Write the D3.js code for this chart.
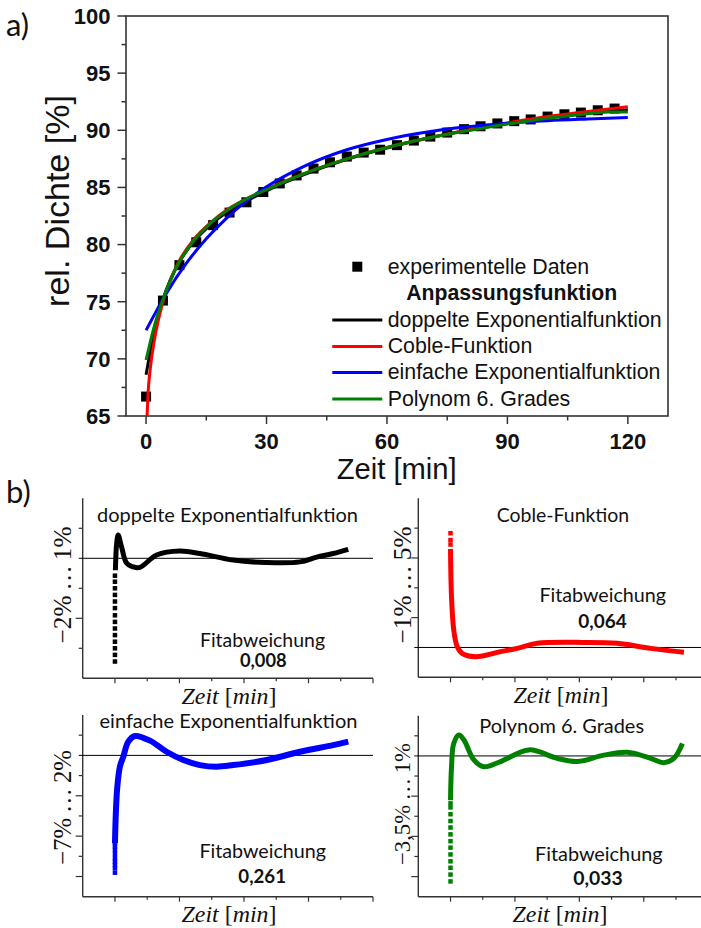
<!DOCTYPE html>
<html>
<head>
<meta charset="utf-8">
<script src="https://cdn.jsdelivr.net/npm/d3@7"></script>
<style>
  html, body { margin: 0; padding: 0; background: #fff; }
  svg { display: block; }
  .sans { font-family: Arial, "Liberation Sans", Helvetica, sans-serif; }
  .cal { font-family: Lato, "Noto Sans", sans-serif; }
  .serif { font-family: "Liberation Serif", "Times New Roman", serif; }
</style>
</head>
<body>
<svg id="chart" width="701" height="928"></svg>
<script>
// ---------- a) sintering density over time ----------
const timeMin = [0, 4.2, 8.3, 12.5, 16.7, 20.8, 25, 29.2, 33.3, 37.5, 41.7, 45.8, 50, 54.2,
  58.3, 62.5, 66.7, 70.8, 75, 79.2, 83.3, 87.5, 91.7, 95.8, 100, 104.2, 108.3, 112.5, 116.7];
const density = [66.7, 75.1, 78.2, 80.2, 81.7, 82.8, 83.7, 84.6, 85.35, 86.05, 86.65, 87.2, 87.7, 88.05,
  88.3, 88.7, 89.1, 89.45, 89.8, 90.1, 90.35, 90.6, 90.8, 90.95, 91.2, 91.4, 91.55, 91.75, 91.9];

// fitted curves (time, density)
const fitDoubleExpT = [0, 1, 2, 4, 6, 8, 12, 16, 20, 25, 30, 40, 50, 60, 70, 80, 90, 100, 110, 120];
const fitDoubleExpY = [68.6, 70.6, 72.4, 75.0, 76.9, 78.3, 80.3, 81.7, 82.8, 83.8, 84.7, 86.2, 87.45, 88.45, 89.3, 90.0, 90.6, 91.1, 91.5, 91.8];
const fitCobleT = [0.25, 0.5, 1, 2, 3, 4, 6, 8, 12, 16, 20, 25, 30, 40, 50, 60, 70, 80, 90, 100, 110, 120];
const fitCobleY = [65.0, 67.0, 69.0, 71.5, 73.3, 74.7, 76.8, 78.4, 80.5, 81.9, 83.0, 84.0, 84.85, 86.3, 87.5, 88.5, 89.3, 90.0, 90.65, 91.2, 91.65, 92.05];
const fitSingleExpT = [0, 5, 10, 15, 20, 25, 30, 40, 50, 60, 70, 80, 90, 100, 110, 120];
const fitSingleExpY = [72.5, 75.7, 78.35, 80.5, 82.3, 83.8, 85.05, 86.95, 88.3, 89.2, 89.85, 90.3, 90.62, 90.84, 90.99, 91.12];
const fitPolyT = [0, 2, 4, 6, 8, 12, 16, 20, 25, 30, 40, 50, 60, 70, 80, 90, 100, 110, 115, 120];
const fitPolyY = [69.9, 72.8, 75.0, 76.8, 78.3, 80.4, 81.85, 82.95, 84.0, 84.8, 86.3, 87.5, 88.5, 89.3, 89.95, 90.55, 91.05, 91.45, 91.6, 91.6];

const xTicksMajor = [0, 30, 60, 90, 120];
const xTicksMinor = [15, 45, 75, 105];
const yTicksMajor = [65, 70, 75, 80, 85, 90, 95, 100];
const yTicksMinor = [67.5, 72.5, 77.5, 82.5, 87.5, 92.5, 97.5];

const legendNames = ["doppelte Exponentialfunktion", "Coble-Funktion", "einfache Exponentialfunktion", "Polynom 6. Grades"];
const fitColors = ["#000000", "#ff0000", "#0000ff", "#008000"];

// ---------- b) residuals of each fit (deviation in %) ----------
const panelTitles = legendNames;
const panelRanges = ["\u22122%\u2009\u2026\u20091%", "\u22121%\u2009\u2026\u20095%", "\u22127%\u2009\u2026\u20092%", "\u22123,5%\u2009\u2026\u20091%"];
const panelFitErrors = ["0,008", "0,064", "0,261", "0,033"];

const resDoubleT = [0.2, 0.8, 1.5, 3.0, 5.4, 8.0, 11.6, 19.4, 30.2, 39.5, 55, 70, 86, 93.8, 101.5, 108.5];
const resDoubleY = [-0.2, 0.25, 0.39, 0.2, -0.08, -0.14, -0.15, 0.055, 0.12, 0.08, -0.03, -0.07, -0.06, 0.02, 0.08, 0.15];
const resDoubleDots = [-0.29, -0.39, -0.5, -0.61, -0.72, -0.83, -0.95, -1.06, -1.17, -1.28, -1.39, -1.5, -1.61, -1.72];

const resCobleT = [0, 0.47, 1.5, 3.1, 5.4, 11.6, 23.3, 31.1, 40.4, 62.1, 77.6, 93.2, 108.7];
const resCobleY = [3.3, 1.7, 0.59, 0.03, -0.2, -0.31, -0.14, -0.03, 0.14, 0.17, 0.14, -0.03, -0.16];
const resCobleDots = [3.83, 3.6, 3.45];

const resSingleT = [0, 0.47, 1.1, 2.3, 3.9, 6.2, 9.3, 16.3, 24, 31.8, 39.5, 47.3, 55, 70.6, 86, 101.5, 108.5];
const resSingleY = [-4.35, -2.7, -1.55, -0.56, -0.06, 0.68, 0.96, 0.73, 0.18, -0.23, -0.48, -0.56, -0.48, -0.23, 0.18, 0.51, 0.68];
const resSingleDots = [-5.81, -5.59, -5.43, -5.26, -5.09, -4.88, -4.68, -4.51, -4.35];

const resPolyT = [0, 0.47, 1.5, 3.9, 6.2, 10.9, 15.5, 23.3, 36.5, 49.7, 59, 71.4, 82.3, 93.2, 99.3, 104, 108];
const resPolyY = [-1.1, -0.27, 0.31, 0.52, 0.4, -0.1, -0.27, -0.14, 0.15, -0.06, -0.14, 0.02, 0.09, -0.06, -0.17, -0.06, 0.31];
const resPolyDots = [-3.12, -2.95, -2.78, -2.62, -2.45, -2.28, -2.12, -1.95, -1.78, -1.62, -1.45, -1.28, -1.18];

const panelYDomains = [[-2, 1], [-1, 5], [-7, 2], [-3.5, 1]];
const panelYTicksMajor = [[-1], [1, 3], [-2, -4, -6], [-1, -2, -3]];
const panelYTicksMinor = [[0.5, -0.5, -1.5], [2, 4], [1, -1, -3, -5], [0.5, -0.5, -1.5, -2.5]];
const panelXTicksMajor = [0, 30, 60, 90, 120];
const panelXTicksMinor = [15, 45, 75, 105];

// ======================================================
const svg = d3.select("#chart");

function fitWidth(sel, w) {
  const len = sel.node().getComputedTextLength();
  const fs = parseFloat(sel.attr("font-size"));
  sel.attr("font-size", (fs * w / len).toFixed(2));
  return sel;
}

// ---------- chart a ----------
const plot = { left: 126, right: 668, top: 16, bottom: 416 };
const x = d3.scaleLinear().domain([-5, 130]).range([plot.left, plot.right]);
const y = d3.scaleLinear().domain([65, 100]).range([plot.bottom, plot.top]);

const gA = svg.append("g");
const axisCol = "#333";

// ticks (outside)
gA.selectAll(".xt").data(xTicksMajor.map(v => ({ v, len: 8 })).concat(xTicksMinor.map(v => ({ v, len: 4.5 }))))
  .join("line").attr("x1", d => x(d.v)).attr("x2", d => x(d.v))
  .attr("y1", plot.bottom).attr("y2", d => plot.bottom + d.len)
  .attr("stroke", axisCol).attr("stroke-width", 1.5);
gA.selectAll(".yt").data(yTicksMajor.map(v => ({ v, len: 8.5 })).concat(yTicksMinor.map(v => ({ v, len: 4.5 }))))
  .join("line").attr("y1", d => y(d.v)).attr("y2", d => y(d.v))
  .attr("x1", plot.left).attr("x2", d => plot.left - d.len)
  .attr("stroke", axisCol).attr("stroke-width", 1.5);

// frame
gA.append("rect").attr("x", plot.left).attr("y", plot.top)
  .attr("width", plot.right - plot.left).attr("height", plot.bottom - plot.top)
  .attr("fill", "none").attr("stroke", axisCol).attr("stroke-width", 1.6);

// tick labels
gA.selectAll(".xl").data(xTicksMajor).join("text").attr("class", "sans")
  .attr("x", d => x(d)).attr("y", 448.5).attr("text-anchor", "middle")
  .attr("font-weight", "bold").attr("font-size", 22)
  .attr("fill", "#111").text(d => d);
gA.selectAll(".yl").data(yTicksMajor).join("text").attr("class", "sans")
  .attr("x", 110.5).attr("y", d => y(d) + 7.8).attr("text-anchor", "end")
  .attr("font-weight", "bold").attr("font-size", 22)
  .attr("fill", "#111").text(d => d);

// axis titles
fitWidth(gA.append("text").attr("class", "sans").attr("x", 396.7).attr("y", 479).attr("text-anchor", "middle")
  .attr("font-size", 28).attr("fill", "#111").text("Zeit [min]"), 120);
fitWidth(gA.append("text").attr("class", "sans").attr("transform", "translate(68.5,201) rotate(-90)")
  .attr("text-anchor", "middle").attr("font-size", 30).attr("fill", "#111").text("rel. Dichte [%]"), 212);

// data squares
const sq = 10;
gA.selectAll(".pt").data(timeMin.map((t, i) => [t, density[i]])).join("rect")
  .attr("x", d => x(d[0]) - sq / 2).attr("y", d => y(d[1]) - sq / 2)
  .attr("width", sq).attr("height", sq).attr("fill", "#000");

// fit lines
const fitLine = d3.line().x(d => x(d[0])).y(d => y(d[1])).curve(d3.curveMonotoneX);
const fits = [
  [fitDoubleExpT, fitDoubleExpY],
  [fitCobleT, fitCobleY],
  [fitSingleExpT, fitSingleExpY],
  [fitPolyT, fitPolyY]
];
fits.forEach((f, k) => {
  gA.append("path").datum(f[0].map((t, i) => [t, f[1][i]]))
    .attr("d", fitLine).attr("fill", "none")
    .attr("stroke", fitColors[k]).attr("stroke-width", 3);
});

// legend
const lg = gA.append("g");
lg.append("rect").attr("x", 357.3 - 5).attr("y", 266.7 - 5).attr("width", 10).attr("height", 10).attr("fill", "#000");
const t0 = lg.append("text").attr("class", "sans").attr("x", 387.7).attr("y", 273.5)
  .attr("font-size", 20).attr("fill", "#111").text("experimentelle Daten");
fitWidth(t0, 201.6);
const legFs = t0.attr("font-size");
const th = lg.append("text").attr("class", "sans").attr("x", 511.7).attr("y", 300.3).attr("text-anchor", "middle")
  .attr("font-weight", "bold").attr("font-size", 20).attr("fill", "#111")
  .text("Anpassungsfunktion");
fitWidth(th, 211);
const legRows = [319.9, 346.6, 372.4, 398.9];
legendNames.forEach((name, k) => {
  lg.append("line").attr("x1", 332.3).attr("x2", 382.3).attr("y1", legRows[k]).attr("y2", legRows[k])
    .attr("stroke", fitColors[k]).attr("stroke-width", 3);
  lg.append("text").attr("class", "sans").attr("x", 387.7).attr("y", legRows[k] + 6.8)
    .attr("font-size", legFs).attr("fill", "#111").text(name);
});

// panel letters
svg.append("text").attr("class", "cal").attr("x", 6).attr("y", 36).attr("font-size", 31).attr("fill", "#111").text("a)");
svg.append("text").attr("class", "cal").attr("x", 6).attr("y", 503).attr("font-size", 31).attr("fill", "#111").text("b)");

// ---------- chart b: four residual panels ----------
const residuals = [
  [resDoubleT, resDoubleY, resDoubleDots],
  [resCobleT, resCobleY, resCobleDots],
  [resSingleT, resSingleY, resSingleDots],
  [resPolyT, resPolyY, resPolyDots]
];
const panelBoxes = [
  { x0: 82.7, x1: 373, y0: 498.3, y1: 678.3, zeroEnd: 373 },
  { x0: 418.3, x1: 708.2, y0: 498.3, y1: 677.3, zeroEnd: 701 },
  { x0: 82.7, x1: 373, y0: 715, y1: 896.7, zeroEnd: 373 },
  { x0: 418.3, x1: 708.2, y0: 715.7, y1: 896.7, zeroEnd: 701 }
];
const panelText = [
  { title: [227.5, 521.7, 261], fit: [262.5, 646.7, 125], val: [263.3, 666.7, 46.7], zeit: [229, 703.5], yl: [71, 585, 117] },
  { title: [563, 521.7, 132.6], fit: [602.7, 601.7, 126.7], val: [602.5, 627.7, 48.4], zeit: [561, 702.5], yl: [411, 585, 117] },
  { title: [228.5, 728.3, 258], fit: [262.7, 858.3, 126.7], val: [262.2, 882.7, 47.7], zeit: [229, 921.7], yl: [71, 807.5, 115] },
  { title: [561.7, 732.7, 164.7], fit: [598.8, 860.7, 127.7], val: [598, 885, 49.4], zeit: [560, 921.7], yl: [410, 804, 122] }
];
const lineW = [5, 5, 6, 5];

residuals.forEach((r, k) => {
  const b = panelBoxes[k];
  const px = d3.scaleLinear().domain([-15, 120]).range([b.x0, b.x1]);
  const py = d3.scaleLinear().domain(panelYDomains[k]).range([b.y1, b.y0]);
  const g = svg.append("g");

  // axes
  g.append("line").attr("x1", b.x0).attr("x2", b.x0).attr("y1", b.y0).attr("y2", b.y1)
    .attr("stroke", axisCol).attr("stroke-width", 1.4);
  g.append("line").attr("x1", b.x0).attr("x2", b.x1).attr("y1", b.y1).attr("y2", b.y1)
    .attr("stroke", axisCol).attr("stroke-width", 1.4);
  g.selectAll(".xt").data(panelXTicksMajor.map(v => ({ v, len: 5 })).concat(panelXTicksMinor.map(v => ({ v, len: 3 }))))
    .join("line").attr("x1", d => px(d.v)).attr("x2", d => px(d.v))
    .attr("y1", b.y1).attr("y2", d => b.y1 + d.len)
    .attr("stroke", axisCol).attr("stroke-width", 1.2);
  g.selectAll(".yt").data(panelYTicksMajor[k].map(v => ({ v, len: 7 })).concat(panelYTicksMinor[k].map(v => ({ v, len: 4 }))))
    .join("line").attr("y1", d => py(d.v)).attr("y2", d => py(d.v))
    .attr("x1", b.x0).attr("x2", d => b.x0 - d.len)
    .attr("stroke", axisCol).attr("stroke-width", 1.2);

  // zero line
  g.append("line").attr("x1", b.x0 - 4).attr("x2", b.zeroEnd).attr("y1", py(0)).attr("y2", py(0))
    .attr("stroke", "#000").attr("stroke-width", 1);

  // residual trace
  const ln = d3.line().x(d => px(d[0])).y(d => py(d[1])).curve(d3.curveCatmullRom.alpha(0.5));
  g.append("path").datum(r[0].map((t, i) => [t, r[1][i]]))
    .attr("d", ln).attr("fill", "none").attr("stroke", fitColors[k])
    .attr("stroke-width", lineW[k]).attr("stroke-linejoin", "round").attr("stroke-linecap", "butt");
  const ds = 4.5;
  g.selectAll(".dot").data(r[2]).join("rect")
    .attr("x", px(0) - ds / 2).attr("y", d => py(d) - ds / 2)
    .attr("width", ds).attr("height", ds).attr("fill", fitColors[k]);

  // texts
  const pt = panelText[k];
  fitWidth(g.append("text").attr("class", "cal").attr("x", pt.title[0]).attr("y", pt.title[1]).attr("text-anchor", "middle")
    .attr("font-size", 20).attr("fill", "#111").text(panelTitles[k]), pt.title[2]);
  fitWidth(g.append("text").attr("class", "cal").attr("x", pt.fit[0]).attr("y", pt.fit[1]).attr("text-anchor", "middle")
    .attr("font-size", 20).attr("fill", "#111").text("Fitabweichung"), pt.fit[2]);
  fitWidth(g.append("text").attr("class", "cal").attr("x", pt.val[0]).attr("y", pt.val[1]).attr("text-anchor", "middle")
    .attr("font-weight", "bold").attr("font-size", 20).attr("fill", "#111").text(panelFitErrors[k]), pt.val[2]);

  const zt = g.append("text").attr("class", "serif").attr("x", pt.zeit[0]).attr("y", pt.zeit[1]).attr("text-anchor", "middle")
    .attr("font-size", 21).attr("fill", "#111");
  zt.append("tspan").attr("font-style", "italic").text("Zeit");
  zt.append("tspan").text(" [");
  zt.append("tspan").attr("font-style", "italic").text("min");
  zt.append("tspan").text("]");
  fitWidth(zt, 95);

  fitWidth(g.append("text").attr("class", "serif").attr("transform", `translate(${pt.yl[0]},${pt.yl[1]}) rotate(-90)`)
    .attr("text-anchor", "middle").attr("font-size", 24)
    .attr("fill", "#111").text(panelRanges[k]), pt.yl[2]);
});
</script>
</body>
</html>
